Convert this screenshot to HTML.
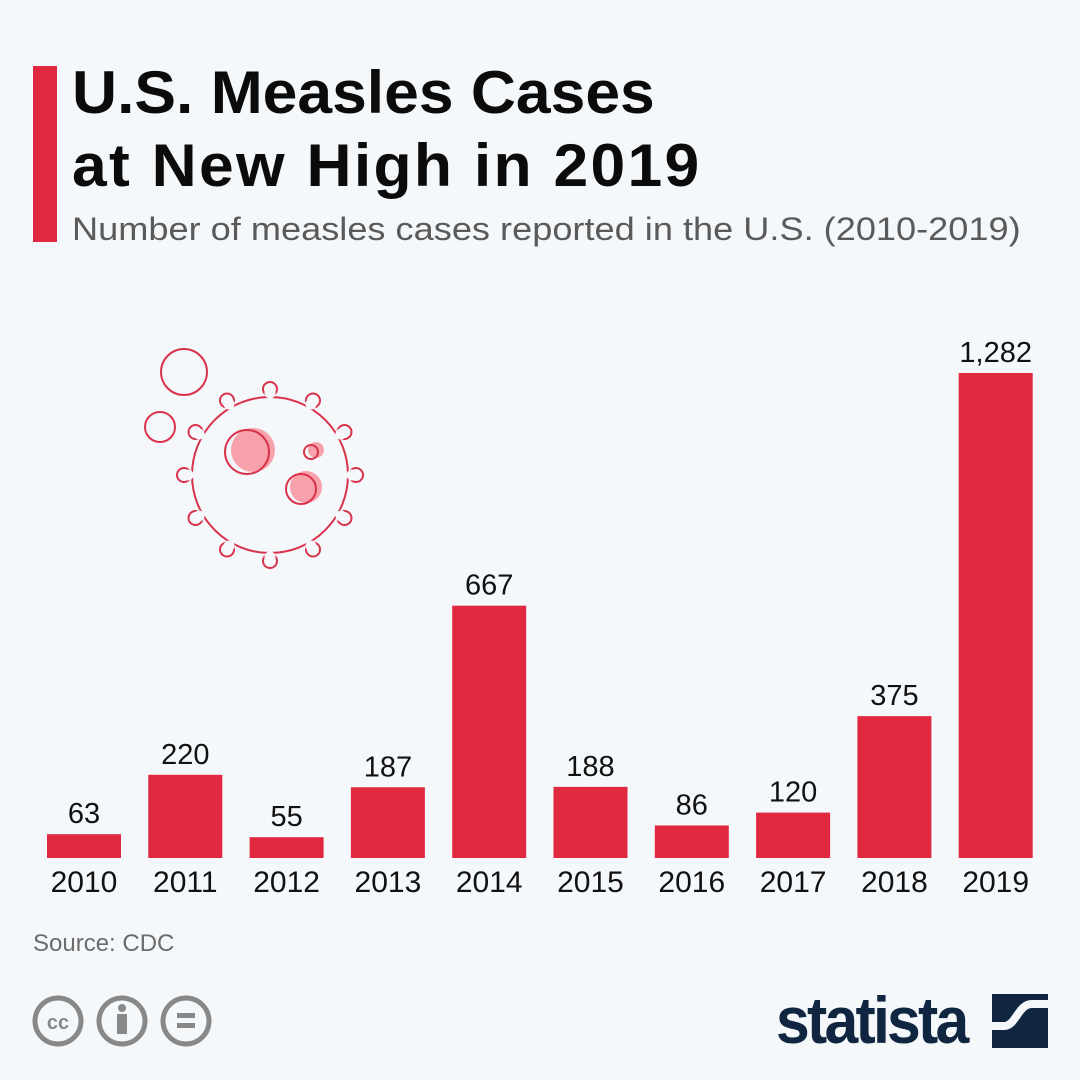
<!DOCTYPE html>
<html><head><meta charset="utf-8"><style>
html,body{margin:0;padding:0;background:#f5f8fb;}
#root{position:relative;width:1080px;height:1080px;background:#f5f8fb;font-family:"Liberation Sans",sans-serif;overflow:hidden;}
.t{position:absolute;}
</style></head><body>
<div id="root">
<div class="t" style="left:33px;top:66px;width:24px;height:176px;background:#e0293f"></div>
<div class="t" style="left:72px;top:56px;font-size:60px;font-weight:bold;line-height:73px;color:#0b0b0b;transform:scaleX(1.04);transform-origin:left;white-space:nowrap">U.S. Measles Cases<br><span style="letter-spacing:2.2px">at New High in 2019</span></div>
<div class="t" style="left:72px;top:211px;font-size:32px;color:#5a5a5a;transform:scaleX(1.13);transform-origin:left;white-space:nowrap">Number of measles cases reported in the U.S. (2010-2019)</div>
<svg class="t" style="left:0;top:0" width="1080" height="1080" id="chart">
<g id="virus" fill="none" stroke="#d8334a" stroke-width="2"></g>
<g id="bars"></g>
</svg>
<div class="t" style="left:33px;top:930px;font-size:24px;color:#6b6b6b">Source: CDC</div>
<svg class="t" style="left:30px;top:993px" width="190" height="56">
<g fill="none" stroke="#888" stroke-width="5">
<circle cx="28" cy="28" r="23"/><circle cx="92" cy="28" r="23"/><circle cx="156" cy="28" r="23"/></g>
<text x="28" y="36" font-size="20" font-weight="bold" fill="#888" text-anchor="middle" font-family="Liberation Sans">cc</text>
<circle cx="92" cy="15" r="4" fill="#888"/><rect x="87" y="21" width="10" height="20" fill="#888"/>
<rect x="147" y="20" width="18" height="5" fill="#888"/><rect x="147" y="30" width="18" height="5" fill="#888"/>
</svg>
<div class="t" style="left:776px;top:982px;font-size:66px;font-weight:bold;color:#0f2540;letter-spacing:-3px;transform:scaleX(0.92);transform-origin:left">statista</div>
<svg class="t" style="left:992px;top:994px" width="56" height="54">
<rect width="56" height="54" fill="#0f2540"/>
<path d="M0 32 L12 32 C24 32 26 10 40 10 L56 10" stroke="#f5f8fb" stroke-width="8" fill="none"/>
</svg>
</div>
<script>
const years=["2010","2011","2012","2013","2014","2015","2016","2017","2018","2019"];
const cases=[63,220,55,187,667,188,86,120,375,1282];
const labels=["63","220","55","187","667","188","86","120","375","1,282"];
const NS="http://www.w3.org/2000/svg";
const base=858,maxH=485,maxV=1282,x0=84,step=101.3,bw=74;
const y=v=>base-v/maxV*maxH;
const xc=i=>x0+i*step;
const g=document.getElementById('bars');
years.forEach((yr,i)=>{
 const r=document.createElementNS(NS,'rect');
 r.setAttribute('x',xc(i)-bw/2);r.setAttribute('y',y(cases[i]));
 r.setAttribute('width',bw);r.setAttribute('height',base-y(cases[i]));
 r.setAttribute('fill','#e0293f');
 
 
 g.appendChild(r);
 const t=document.createElementNS(NS,'text');
 t.setAttribute('x',xc(i));t.setAttribute('y',y(cases[i])-11);
 t.setAttribute('text-anchor','middle');t.setAttribute('font-size','29');t.setAttribute('fill','#111');
 t.setAttribute('font-family','Liberation Sans');t.textContent=labels[i];
 
 
 g.appendChild(t);
 const l=document.createElementNS(NS,'text');
 l.setAttribute('x',xc(i));l.setAttribute('y',892);
 l.setAttribute('text-anchor','middle');l.setAttribute('font-size','30');l.setAttribute('fill','#111');
 l.setAttribute('font-family','Liberation Sans');l.textContent=yr;
 
 
 g.appendChild(l);
});
// virus
const v=document.getElementById('virus');
const cx=270,cy=475,R=78,n=12;
let s='';
for(let k=0;k<n;k++){
 const a=k*2*Math.PI/n-Math.PI/2;
 const ex=cx+(R+8)*Math.cos(a),ey=cy+(R+8)*Math.sin(a);
 s+=`<circle cx="${ex}" cy="${ey}" r="7"/>`;
}
let fill='';
for(let k=0;k<n;k++){
 const a=k*2*Math.PI/n-Math.PI/2;
 const ex=cx+(R+4)*Math.cos(a),ey=cy+(R+4)*Math.sin(a);
 fill+=`<circle cx="${ex}" cy="${ey}" r="5.5" fill="#f5f8fb" stroke="none"/>`;
}
v.innerHTML=s+`<circle cx="${cx}" cy="${cy}" r="${R}" fill="#f5f8fb"/>`+fill+`
<circle cx="253" cy="450" r="22" fill="#f7a1aa" stroke="none"/><circle cx="247" cy="452" r="22"/>
<circle cx="316" cy="450" r="8" fill="#f7a1aa" stroke="none"/><circle cx="311" cy="452" r="7"/>
<circle cx="306" cy="487" r="16" fill="#f7a1aa" stroke="none"/><circle cx="301" cy="489" r="15"/>
<circle cx="184" cy="372" r="23" fill="#f5f8fb"/><circle cx="160" cy="427" r="15" fill="#f5f8fb"/>`;
</script>
</body></html>
